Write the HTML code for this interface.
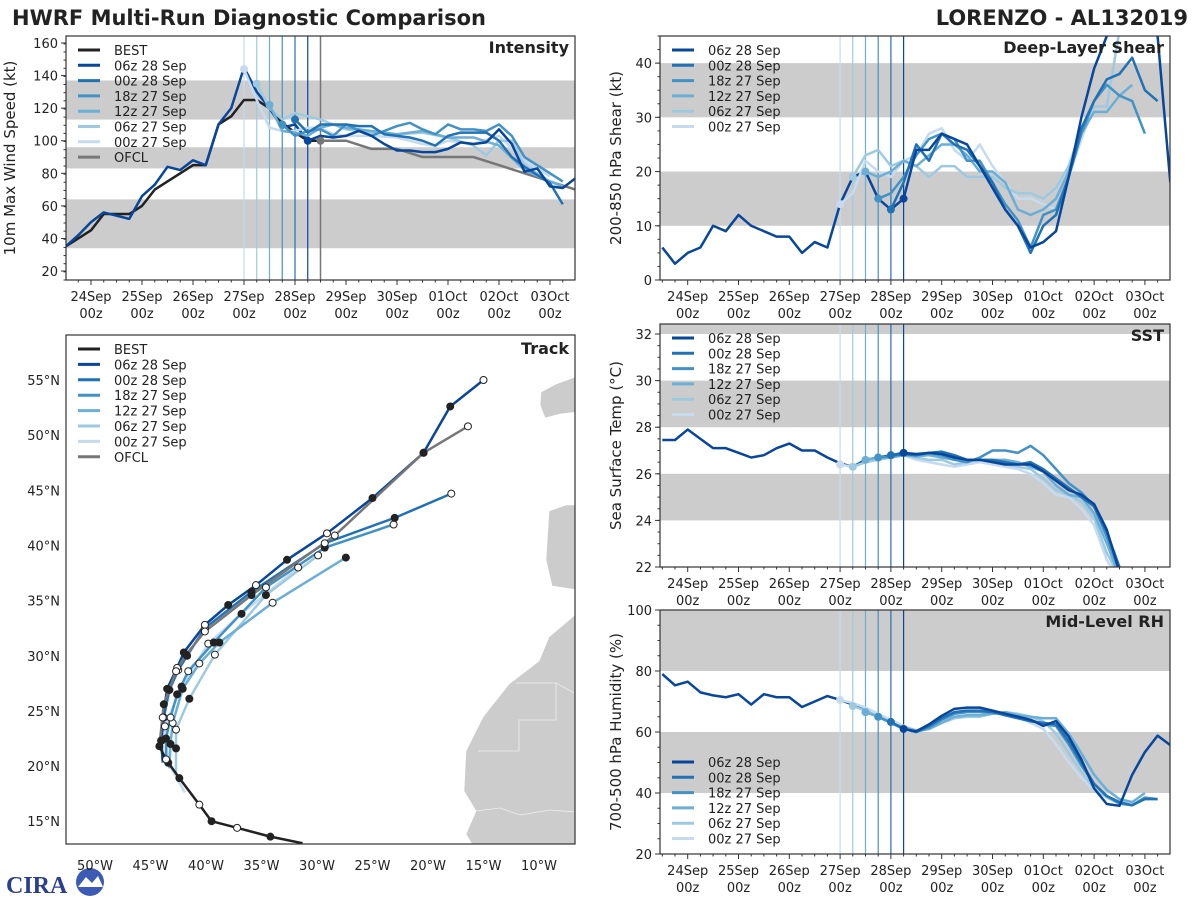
<!DOCTYPE html>
<html><head><meta charset="utf-8">
<style>
html,body{margin:0;padding:0;background:#fff;}
svg{display:block;font-family:"DejaVu Sans","Liberation Sans",sans-serif;}
</style></head>
<body>
<svg id="fig" width="1200" height="900" viewBox="0 0 1200 900" xmlns="http://www.w3.org/2000/svg">
<text x="12" y="25" font-size="21" font-weight="bold" fill="#222">HWRF Multi-Run Diagnostic Comparison</text>
<text x="1188" y="25" font-size="21" font-weight="bold" fill="#222" text-anchor="end">LORENZO - AL132019</text>
<g>
<text x="6" y="893" font-size="24" font-weight="bold" fill="#2a3f8f" font-family="Liberation Serif,serif">CIRA</text>
<circle cx="90" cy="882" r="14" fill="#3b5bb5"/>
<path d="M78 887 L86 877 L92 883 L98 876 L103 887 Z" fill="#fff"/>
</g>
</svg>
<script>
// ---------- data ----------
const runNames = ["06z 28 Sep","00z 28 Sep","18z 27 Sep","12z 27 Sep","06z 27 Sep","00z 27 Sep"];
const runColors = ["#08469c","#2171b5","#4292c6","#6baed6","#9ecae1","#c6dbef"];
const runInit = [102,96,90,84,78,72];
const dayLabels = ["24Sep","25Sep","26Sep","27Sep","28Sep","29Sep","30Sep","01Oct","02Oct","03Oct"];

// Intensity (kt), times in hours since 24Sep 00z
const bestT = [-12,-6,0,6,12,18,24,30,36,42,48,54,60,66,72,78,84,90,96,102,108];
const bestV = [35,40,45,55,55,55,60,70,75,80,85,85,110,115,125,125,120,111,105,100,100];
const ofclT = [108,120,132,144,156,168,180,204,228];
const ofclV = [100,100,95,95,90,90,90,80,70];
const intHistT = [-12,-6,0,6,12,18,24,30,36,42,48,54,60,66,72,78,84,90,96,102];
const intHistV = [35,42,50,56,54,52,66,73,84,82,88,85,110,120,145,130,120,108,110,100];
const int06z28 = [[102,108,114,120,126,132,138,144,150,156,162,168,174,180,186,192,198,204,210,216,222,228],[100,103,102,103,106,103,98,94,94,93,93,95,99,98,99,107,98,81,83,72,71,77]];
const int00z28 = [[96,102,108,114,120,126,132,138,144,150,156,162,168,174,180,186,192,198,204,216,222],[113,105,110,110,110,109,109,104,103,102,100,97,103,105,105,105,100,90,84,74,61]];
const int18z27 = [[90,96,102,108,114,120,132,144,150,156,162,168,174,180,186,192,198,204,216,222],[110,103,106,107,103,110,103,109,111,107,104,110,107,107,106,110,103,90,80,75]];
const int12z27 = [[84,90,96,102,108,114,120,132,144,156,168,180,192,204,216,222],[122,106,105,103,108,110,108,106,104,106,102,102,97,82,75,72]];
const int06z27 = [[78,84,90,96,102,108,120,132,144,156,168,180,186,192,198,204,216,222],[135,120,113,117,115,113,107,105,104,105,102,97,91,100,100,85,75,72]];
const int00z27 = [[72,78,84,90,96,102,108,114,120,132,144,150,156,162,168,180,192,204,216],[144,125,108,106,106,108,108,104,103,103,102,100,98,97,100,98,103,88,78]];

// Deep-layer shear (kt)
const shrHistT = [-12,-6,0,6,12,18,24,30,36,42,48,54,60,66,72,78,84,90,96,102];
const shrHistV = [6,3,5,6,10,9,12,10,9,8,8,5,7,6,14,19,20,15,13,15];
const shr06z28 = [[102,108,114,120,126,132,138,144,150,156,162,168,174,180,186,192,198,204,210,216,222,228],[15,24,24,27,26,25,21,17,13,10,6,7,9,19,30,39,45,50,52,50,45,18]];
const shr00z28 = [[96,102,108,114,120,126,132,138,144,150,156,162,168,174,180,186,192,198,204,210,216,222],[13,18,25,22,27,25,24,21,18,13,10,5,10,12,19,28,33,37,38,41,35,33]];
const shr18z27 = [[90,96,102,108,114,120,126,132,138,144,150,156,162,168,174,180,186,192,198,204,210,216],[15,16,19,23,26,27,26,22,22,18,14,11,6,12,13,19,27,33,36,34,33,27]];
const shr12z27 = [[84,90,96,102,108,114,120,126,132,138,144,150,156,162,168,174,180,186,192,198,204,210],[20,19,20,22,21,23,25,25,23,20,20,18,13,12,13,15,20,27,31,31,34,36]];
const shr06z27 = [[78,84,90,96,102,108,114,120,126,132,138,144,150,156,162,168,174,180,186,192,198,204],[19,23,24,21,22,21,19,21,21,19,19,19,17,16,16,15,17,21,28,32,32,46]];
const shr00z27 = [[72,78,84,90,96,102,108,114,120,126,132,138,144,150,156,162,168,174,180,186,192],[14,16,22,20,19,22,23,27,28,24,22,25,21,18,15,15,14,13,19,26,32]];

// SST (C)
const sstHistT = [-12,-6,0,6,12,18,24,30,36,42,48,54,60,66,72,78,84,90,96,102];
const sstHistV = [27.45,27.45,27.9,27.5,27.1,27.1,26.9,26.7,26.8,27.1,27.3,27.0,27.0,26.7,26.45,26.3,26.6,26.7,26.8,26.9];
const sst06z28 = [[102,108,114,120,126,132,138,144,150,156,162,168,174,180,186,192,198,204],[26.9,26.85,26.9,26.85,26.7,26.6,26.6,26.5,26.4,26.4,26.4,26.1,25.7,25.3,25.1,24.7,23.6,21.8]];
const sst00z28 = [[96,102,108,114,120,126,132,138,144,150,156,162,168,174,180,186,192,198,204],[26.8,26.85,26.8,26.9,26.95,26.8,26.6,26.6,26.6,26.5,26.4,26.5,26.2,25.8,25.4,25.0,24.6,23.5,22.0]];
const sst18z27 = [[90,96,102,108,114,120,126,132,138,144,150,156,162,168,174,180,186,192,198,204],[26.7,26.75,26.85,26.8,26.9,26.8,26.6,26.5,26.7,27.0,27.0,26.9,27.2,26.8,26.2,25.6,25.2,24.6,23.3,21.8]];
const sst12z27 = [[84,90,96,102,108,114,120,126,132,138,144,150,156,162,168,174,180,186,192,198,204],[26.6,26.7,26.7,26.8,26.75,26.8,26.7,26.6,26.6,26.6,26.6,26.6,26.5,26.3,26.1,25.5,25.1,25.0,24.3,23.0,21.6]];
const sst06z27 = [[78,84,90,96,102,108,114,120,126,132,138,144,150,156,162,168,174,180,186,192,198,204],[26.3,26.5,26.6,26.7,26.8,26.7,26.6,26.6,26.4,26.5,26.6,26.5,26.4,26.3,26.2,25.8,25.3,25.1,24.8,24.1,22.6,21.6]];
const sst00z27 = [[72,78,84,90,96,102,108,114,120,126,132,138,144,150,156,162,168,174,180,186,192,198,204],[26.4,26.3,26.5,26.6,26.7,26.8,26.6,26.5,26.4,26.3,26.4,26.5,26.4,26.3,26.2,26.0,25.6,25.1,25.0,24.5,23.8,22.3,21.5]];

// Mid-level RH (%)
const rhHistT = [-12,-6,0,6,12,18,24,30,36,42,48,54,60,66,72,78,84,90,96,102];
const rhHistV = [79,75.3,76.5,73,72,71.4,72.4,69,72.4,71.4,71.4,68.2,70,71.8,70.5,69,67,65,63.3,61];
const rh06z28 = [[102,108,114,120,126,132,138,144,150,156,162,168,174,180,186,192,198,204,210,216,222,228],[61,60.2,62.5,65.3,67.6,68,68,67,66,65,64,62,63.6,58.5,51,41.5,36.4,35.8,46,53.4,58.8,55.7]];
const rh00z28 = [[96,102,108,114,120,126,132,138,144,150,156,162,168,174,180,186,192,198,204,210,216,222],[63.3,61,60,62,64.5,66.5,67,67,66.5,65.5,64.5,63.5,63,62.5,57,50,43,39,37,36,38,38]];
const rh18z27 = [[90,96,102,108,114,120,126,132,138,144,150,156,162,168,174,180,186,192,198,204,210,216,222],[65,63,61,60,61.5,64,66,66.5,66.5,66.5,66,65,64,62.5,62,56,49,43,39,36.5,36,38.5,38]];
const rh12z27 = [[84,90,96,102,108,114,120,126,132,138,144,150,156,162,168,174,180,186,192,198,204,210,216],[66.5,65,63,61.5,60.5,61,63,65,65.5,65.5,66,66.5,65.5,65,64.5,64.5,59.5,53,46,41,38,37,40]];
const rh06z27 = [[78,84,90,96,102,108,114,120,126,132,138,144,150,156,162,168,174,180,186,192,198,204],[68.5,67,65,63,61,60,61,63,64.5,65,65,66,66.5,66,65,63.5,59.5,53,47,41.5,38.5,36.5]];
const rh00z27 = [[72,78,84,90,96,102,108,114,120,126,132,138,144,150,156,162,168,174,180,186,192,198,204],[70.5,69.5,68,66,64,62,60.5,62,64,65,65.5,65.5,66,66,65,63,61,56,50,45,41,39,37]];

// Track (lon, lat)
const trkBestLon = [-31.3,-34.2,-37.2,-39.5,-40.6,-42.4,-43.6,-44.2];
const trkBestLat = [13.0,13.6,14.4,15.0,16.5,18.9,20.6,21.8];
const trkOfclLon = [-44.2,-43.8,-42.7,-41.8,-40.1,-35.9,-28.4,-20.4,-16.4];
const trkOfclLat = [21.8,25.6,28.6,30.1,32.2,35.5,40.9,48.4,50.8];
const trk06z28Lon = [-43.9,-44.05,-43.9,-43.5,-42.6,-42.0,-40.1,-38.0,-35.5,-32.7,-29.1,-25.0,-20.4,-18.0,-15.0];
const trk06z28Lat = [20.5,22.3,24.4,27.0,28.9,30.3,32.8,34.6,36.4,38.7,41.1,44.3,48.4,52.6,55.0];
const trk00z28Lon = [-43.9,-44.0,-43.8,-43.3,-42.5,-41.7,-40.1,-35.9,-29.3,-23.0,-17.9];
const trk00z28Lat = [20.3,22.3,24.4,26.9,28.7,30.0,32.5,35.8,40.2,42.5,44.7];
const trk18z27Lon = [-43.6,-43.6,-43.2,-42.6,-41.6,-39.3,-34.6,-29.3,-23.1];
const trk18z27Lat = [20.3,22.5,24.4,26.5,28.6,31.2,36.2,39.8,41.9];
const trk12z27Lon = [-43.3,-43.2,-43.0,-42.1,-40.6,-38.8,-34.0,-27.4];
const trk12z27Lat = [19.8,22.0,23.9,27.0,29.3,31.2,34.8,38.9];
const trk06z27Lon = [-42.7,-42.7,-42.7,-41.5,-39.2,-34.6,-29.9];
const trk06z27Lat = [19.2,21.6,23.3,26.1,30.1,35.5,39.1];
const trk00z27Lon = [-41.9,-43.4,-43.7,-42.2,-39.8,-36.8,-31.7];
const trk00z27Lat = [17.6,20.3,23.6,27.2,31.1,33.8,38.0];

// ---------- drawing ----------
const NS = "http://www.w3.org/2000/svg";
const svg = document.getElementById("fig");
function mk(tag, attrs, parent){ const e=document.createElementNS(NS,tag); for(const k in attrs) e.setAttribute(k,attrs[k]); (parent||svg).appendChild(e); return e; }
function txt(x,y,s,attrs,parent){ const e=mk("text",Object.assign({x:x,y:y,"font-size":13,fill:"#222"},attrs||{}),parent); e.textContent=s; return e; }

function panel(cfg){
  const g = mk("g",{});
  
  
  const X0=cfg.x0,X1=cfg.x1,Y0=cfg.y0,Y1=cfg.y1;
  const xs = t => cfg.xDay0 + t/24*cfg.pxDay;
  const ys = v => Y1 - (v-cfg.vmin)/(cfg.vmax-cfg.vmin)*(Y1-Y0);
  const cid = "clip-"+cfg.name;
  const cp = mk("clipPath",{id:cid},g); mk("rect",{x:X0,y:Y0,width:X1-X0,height:Y1-Y0},cp);
  const inner = mk("g",{"clip-path":"url(#"+cid+")"},g);
  cfg.bands.forEach(b=>{
    const r = mk("rect",{x:X0,y:ys(b[1]),width:X1-X0,height:ys(b[0])-ys(b[1]),fill:"#cccccc"},inner);
    
    
  });
  // init lines
  runInit.forEach((t,i)=>{
    const l = mk("line",{x1:xs(t),x2:xs(t),y1:Y0,y2:Y1,stroke:runColors[i],"stroke-width":1.2},inner);
    
    
  });
  if(cfg.ofclLine){ const l=mk("line",{x1:xs(cfg.ofclLine),x2:xs(cfg.ofclLine),y1:Y0,y2:Y1,stroke:"#777","stroke-width":1.5},inner);
    
     }
  const poly=(T,V,col,w,nm)=>{ const p=mk("polyline",{points:T.map((t,k)=>xs(t)+","+ys(V[k])).join(" "),fill:"none",stroke:col,"stroke-width":w,"stroke-linejoin":"round"},inner);
    
     return p; };
  if(cfg.best){ poly(cfg.best[0],cfg.best[1],"#222",2.5,"best-line"); }
  if(cfg.ofcl){ poly(cfg.ofcl[0],cfg.ofcl[1],"#777",2.5,"ofcl-line"); }
  poly(cfg.hist[0],cfg.hist[1],runColors[0],2.5,"analysis-history-line");
  for(let i=cfg.runs.length-1;i>=0;i--){ poly(cfg.runs[i][0],cfg.runs[i][1],runColors[i],2.5,"run-line-"+runNames[i].replace(/ /g,"-").toLowerCase()); }
  for(let i=cfg.runs.length-1;i>=0;i--){ const c=mk("circle",{cx:xs(cfg.runs[i][0][0]),cy:ys(cfg.runs[i][1][0]),r:4,fill:runColors[i]},inner);
    
     }
  if(cfg.ofcl){ const c=mk("circle",{cx:xs(cfg.ofcl[0][0]),cy:ys(cfg.ofcl[1][0]),r:4,fill:"#777"},inner);
    
     }
  mk("rect",{x:X0,y:Y0,width:X1-X0,height:Y1-Y0,fill:"none",stroke:"#333","stroke-width":1.2},g);
  // y ticks
  for(let v=cfg.ymaj0; v<=cfg.vmax+1e-6; v+=cfg.ystep){
    const y=ys(v); mk("line",{x1:X0-5,x2:X0,y1:y,y2:y,stroke:"#333"},g);
    const t=txt(X0-8,y+5,String(v),{"text-anchor":"end","font-size":13},g);
    
    
  }
  for(let v=cfg.vmin; v<=cfg.vmax+1e-6; v+=cfg.yminor){ const y=ys(v); mk("line",{x1:X0-2.5,x2:X0,y1:y,y2:y,stroke:"#333"},g); }
  // x ticks
  for(let h=-12; ; h+=6){ const x=xs(h); if(x>X1) break; if(x<X0) continue;
    const major = h%24===0; mk("line",{x1:x,x2:x,y1:Y1,y2:Y1+(major?5:2.5),stroke:"#333"},g); }
  dayLabels.forEach((d,k)=>{ const x=xs(k*24);
    const a=txt(x,Y1+21,d,{"text-anchor":"middle","font-size":13},g);
    
    
    const b=txt(x,Y1+38,"00z",{"text-anchor":"middle","font-size":13},g);
    
     });
  const tt=txt(X1-6,Y0+17,cfg.title,{"text-anchor":"end","font-size":16,"font-weight":"bold"},g);
  
  
  const yc=(Y0+Y1)/2, yx=cfg.ylabX;
  const yl=txt(yx,yc,cfg.ylab,{"text-anchor":"middle","font-size":15,transform:"rotate(-90 "+yx+" "+yc+")"},g);
  
  
  // legend
  const lg=mk("g",{},g);
  
  
  cfg.legend.forEach((e,k)=>{ const y=cfg.legY+k*15.3;
    mk("line",{x1:X0+12,x2:X0+34,y1:y,y2:y,stroke:e[1],"stroke-width":3},lg);
    const t=txt(X0+48,y+5,e[0],{"font-size":13},lg);
    
     });
}

const legRuns = runNames.map((n,i)=>[n,runColors[i]]);
panel({name:"intensity-panel",x0:66,x1:575,y0:36,y1:280,xDay0:91,pxDay:51,vmin:14.5,vmax:164.3,ymaj0:20,ystep:20,yminor:5,
  bands:[[34,64],[83,96],[113,137]],title:"Intensity",ylab:"10m Max Wind Speed (kt)",ylabX:15,
  best:[bestT,bestV],ofcl:[ofclT,ofclV],ofclLine:108,hist:[intHistT,intHistV],
  runs:[int06z28,int00z28,int18z27,int12z27,int06z27,int00z27],
  legend:[["BEST","#222"]].concat(legRuns).concat([["OFCL","#777"]]),legY:50});
// fix ymaj to start at 20 properly
panel({name:"shear-panel",x0:660,x1:1170,y0:36,y1:280,xDay0:687.7,pxDay:50.8,vmin:0,vmax:45,ymaj0:0,ystep:10,yminor:2.5,
  bands:[[10,20],[30,40]],title:"Deep-Layer Shear",ylab:"200-850 hPa Shear (kt)",ylabX:621,
  hist:[shrHistT,shrHistV],runs:[shr06z28,shr00z28,shr18z27,shr12z27,shr06z27,shr00z27],legend:legRuns,legY:50});
panel({name:"sst-panel",x0:660,x1:1170,y0:324,y1:567,xDay0:687.7,pxDay:50.8,vmin:22,vmax:32.43,ymaj0:22,ystep:2,yminor:0.5,
  bands:[[24,26],[28,30],[32,33]],title:"SST",ylab:"Sea Surface Temp (°C)",ylabX:621,
  hist:[sstHistT,sstHistV],runs:[sst06z28,sst00z28,sst18z27,sst12z27,sst06z27,sst00z27],legend:legRuns,legY:338});
panel({name:"rh-panel",x0:660,x1:1170,y0:610,y1:854,xDay0:687.7,pxDay:50.8,vmin:20,vmax:100,ymaj0:20,ystep:20,yminor:5,
  bands:[[40,60],[80,100]],title:"Mid-Level RH",ylab:"700-500 hPa Humidity (%)",ylabX:621,
  hist:[rhHistT,rhHistV],runs:[rh06z28,rh00z28,rh18z27,rh12z27,rh06z27,rh00z27],legend:legRuns,legY:762});

// ---------- track map ----------
(function(){
  const g=mk("g",{});
  
  
  const X0=66,X1=575,Y0=335,Y1=844;
  const lx = lon => 95 + (lon+50)*11.1;
  const ly = lat => 380 + (55-lat)*11.03;
  const cp=mk("clipPath",{id:"clip-track"},g); mk("rect",{x:X0,y:Y0,width:X1-X0,height:Y1-Y0},cp);
  const inner=mk("g",{"clip-path":"url(#clip-track)"},g);
  const land=[
    "576,614 549,637 539,661 509,684 483,717 466,751 464,791 476,811 466,834 473,846 580,846",
    "549,511 566,505 578,505 578,590 552,586 546,560",
    "541,392 556,384 578,376 578,412 560,414 545,418 540,405"];
  land.forEach(p=>{ const e=mk("polygon",{points:p,fill:"#cccccc",stroke:"#fff","stroke-width":0.6},inner);
    
     });
  mk("polyline",{points:"516,683 556,683 576,694",fill:"none",stroke:"#eee","stroke-width":0.8},inner);
  mk("polyline",{points:"556,683 556,720 519,720 519,751 478,751",fill:"none",stroke:"#eee","stroke-width":0.8},inner);
  mk("polyline",{points:"476,811 500,808 520,815 550,810 576,812",fill:"none",stroke:"#eee","stroke-width":0.8},inner);
  const tracks=[[trk00z27Lon,trk00z27Lat,runColors[5]],[trk06z27Lon,trk06z27Lat,runColors[4]],[trk12z27Lon,trk12z27Lat,runColors[3]],
    [trk18z27Lon,trk18z27Lat,runColors[2]],[trk00z28Lon,trk00z28Lat,runColors[1]],[trk06z28Lon,trk06z28Lat,runColors[0]],
    [trkOfclLon,trkOfclLat,"#777"],[trkBestLon,trkBestLat,"#222"]];
  tracks.forEach(tr=>{ const p=mk("polyline",{points:tr[0].map((lo,k)=>lx(lo)+","+ly(tr[1][k])).join(" "),fill:"none",stroke:tr[2],"stroke-width":2.5,"stroke-linejoin":"round"},inner);
    
     });
  tracks.forEach(tr=>{ tr[0].forEach((lo,k)=>{ if(k===0) return;
    const c=mk("circle",{cx:lx(lo),cy:ly(tr[1][k]),r:3.5,fill:(k%2)?"#222":"#fff",stroke:"#222","stroke-width":1},inner);
    
     }); });
  mk("rect",{x:X0,y:Y0,width:X1-X0,height:Y1-Y0,fill:"none",stroke:"#333","stroke-width":1.2},g);
  [-50,-45,-40,-35,-30,-25,-20,-15,-10].forEach(lo=>{ const t=txt(lx(lo),870,(-lo)+"°W",{"text-anchor":"middle","font-size":13},g);
    
     });
  [55,50,45,40,35,30,25,20,15].forEach(la=>{ const t=txt(60,ly(la)+5,la+"°N",{"text-anchor":"end","font-size":13},g);
    
     });
  const tt=txt(569,354,"Track",{"text-anchor":"end","font-size":16,"font-weight":"bold"},g);
  
  
  const lg=mk("g",{},g);
  
  
  const ents=[["BEST","#222"]].concat(legRuns).concat([["OFCL","#777"]]);
  ents.forEach((e,k)=>{ const y=349+k*15.4;
    mk("line",{x1:78,x2:100,y1:y,y2:y,stroke:e[1],"stroke-width":3},lg);
    const t=txt(114,y+5,e[0],{"font-size":13},lg);
    
     });
})();
</script>
</body></html>
